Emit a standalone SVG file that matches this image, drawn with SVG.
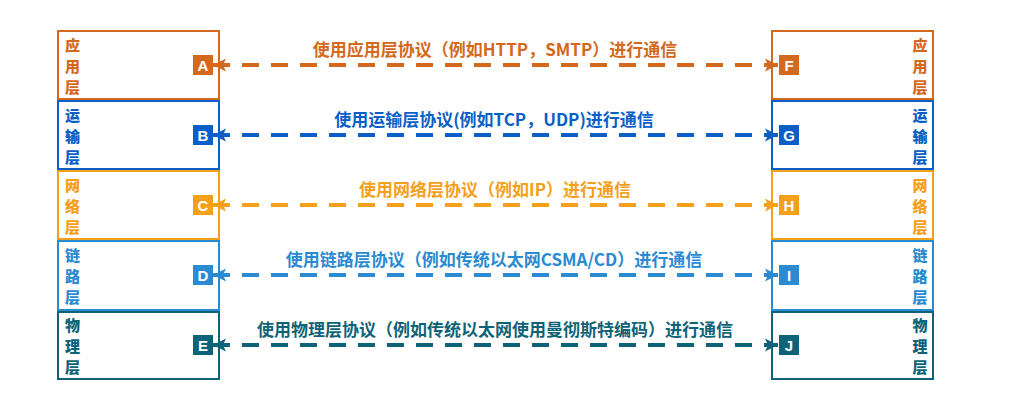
<svg xmlns="http://www.w3.org/2000/svg" width="1026" height="400" viewBox="0 0 1026 400">
<style>
.box{fill:#ffffff;stroke-width:2}
.lyr{font-family:"Noto Sans CJK SC","Liberation Sans",sans-serif;font-weight:900;font-size:15px;text-anchor:middle}
.bd{font-family:"Liberation Sans","Noto Sans",sans-serif;font-weight:bold;font-size:15px;fill:#ffffff;text-anchor:middle}
.lbl{font-family:"Noto Sans CJK SC","Liberation Sans",sans-serif;font-weight:bold;font-size:17px;text-anchor:middle}
.cn{fill:none;stroke-width:4;stroke-dasharray:17 12}
.c1{stroke:#D4691E;fill:#D4691E}
.c2{stroke:#0B5FC6;fill:#0B5FC6}
.c3{stroke:#F5A01A;fill:#F5A01A}
.c4{stroke:#2A8AD2;fill:#2A8AD2}
.c5{stroke:#0F6378;fill:#0F6378}
.t1{fill:#D4691E}.t2{fill:#0B5FC6}.t3{fill:#F5A01A}.t4{fill:#2A8AD2}.t5{fill:#0F6378}
</style>
<defs>
<marker id="m1" markerUnits="userSpaceOnUse" markerWidth="14" markerHeight="14" refX="13" refY="7" orient="auto-start-reverse"><path d="M0,0.5 L13,7 L0,13.5 L3,7 Z" fill="#D4691E"/></marker>
<marker id="m2" markerUnits="userSpaceOnUse" markerWidth="14" markerHeight="14" refX="13" refY="7" orient="auto-start-reverse"><path d="M0,0.5 L13,7 L0,13.5 L3,7 Z" fill="#0B5FC6"/></marker>
<marker id="m3" markerUnits="userSpaceOnUse" markerWidth="14" markerHeight="14" refX="13" refY="7" orient="auto-start-reverse"><path d="M0,0.5 L13,7 L0,13.5 L3,7 Z" fill="#F5A01A"/></marker>
<marker id="m4" markerUnits="userSpaceOnUse" markerWidth="14" markerHeight="14" refX="13" refY="7" orient="auto-start-reverse"><path d="M0,0.5 L13,7 L0,13.5 L3,7 Z" fill="#2A8AD2"/></marker>
<marker id="m5" markerUnits="userSpaceOnUse" markerWidth="14" markerHeight="14" refX="13" refY="7" orient="auto-start-reverse"><path d="M0,0.5 L13,7 L0,13.5 L3,7 Z" fill="#0F6378"/></marker>
</defs>
<rect width="1026" height="400" fill="#ffffff"/>

<g id="nodeA">
<rect class="box c1" style="fill:#fff" x="58" y="31" width="161" height="68"/>
<text class="lyr t1" x="72.5" y="51">应</text><text class="lyr t1" x="72.5" y="72">用</text><text class="lyr t1" x="72.5" y="93">层</text>
<rect class="t1" x="193" y="55" width="20" height="20"/><text class="bd" x="203" y="70.5">A</text>
</g>
<g id="nodeB">
<rect class="box c2" style="fill:#fff" x="58" y="101" width="161" height="68"/>
<text class="lyr t2" x="72.5" y="121">运</text><text class="lyr t2" x="72.5" y="142">输</text><text class="lyr t2" x="72.5" y="163">层</text>
<rect class="t2" x="193" y="125" width="20" height="20"/><text class="bd" x="203" y="140.5">B</text>
</g>
<g id="nodeC">
<rect class="box c3" style="fill:#fff" x="58" y="171" width="161" height="68"/>
<text class="lyr t3" x="72.5" y="191">网</text><text class="lyr t3" x="72.5" y="212">络</text><text class="lyr t3" x="72.5" y="233">层</text>
<rect class="t3" x="193" y="195" width="20" height="20"/><text class="bd" x="203" y="210.5">C</text>
</g>
<g id="nodeD">
<rect class="box c4" style="fill:#fff" x="58" y="241" width="161" height="69"/>
<text class="lyr t4" x="72.5" y="261">链</text><text class="lyr t4" x="72.5" y="282">路</text><text class="lyr t4" x="72.5" y="303">层</text>
<rect class="t4" x="193" y="265" width="20" height="20"/><text class="bd" x="203" y="280.5">D</text>
</g>
<g id="nodeE">
<rect class="box c5" style="fill:#fff" x="58" y="312" width="161" height="67"/>
<text class="lyr t5" x="72.5" y="331">物</text><text class="lyr t5" x="72.5" y="352">理</text><text class="lyr t5" x="72.5" y="373">层</text>
<rect class="t5" x="193" y="335" width="20" height="20"/><text class="bd" x="203" y="350.5">E</text>
</g>

<g id="nodeF">
<rect class="box c1" style="fill:#fff" x="772" y="31" width="161" height="68"/>
<text class="lyr t1" x="920" y="51">应</text><text class="lyr t1" x="920" y="72">用</text><text class="lyr t1" x="920" y="93">层</text>
<rect class="t1" x="779" y="55" width="20" height="20"/><text class="bd" x="789" y="70.5">F</text>
</g>
<g id="nodeG">
<rect class="box c2" style="fill:#fff" x="772" y="101" width="161" height="68"/>
<text class="lyr t2" x="920" y="121">运</text><text class="lyr t2" x="920" y="142">输</text><text class="lyr t2" x="920" y="163">层</text>
<rect class="t2" x="779" y="125" width="20" height="20"/><text class="bd" x="789" y="140.5">G</text>
</g>
<g id="nodeH">
<rect class="box c3" style="fill:#fff" x="772" y="171" width="161" height="68"/>
<text class="lyr t3" x="920" y="191">网</text><text class="lyr t3" x="920" y="212">络</text><text class="lyr t3" x="920" y="233">层</text>
<rect class="t3" x="779" y="195" width="20" height="20"/><text class="bd" x="789" y="210.5">H</text>
</g>
<g id="nodeI">
<rect class="box c4" style="fill:#fff" x="772" y="241" width="161" height="69"/>
<text class="lyr t4" x="920" y="261">链</text><text class="lyr t4" x="920" y="282">路</text><text class="lyr t4" x="920" y="303">层</text>
<rect class="t4" x="779" y="265" width="20" height="20"/><text class="bd" x="789" y="280.5">I</text>
</g>
<g id="nodeJ">
<rect class="box c5" style="fill:#fff" x="772" y="312" width="161" height="67"/>
<text class="lyr t5" x="920" y="331">物</text><text class="lyr t5" x="920" y="352">理</text><text class="lyr t5" x="920" y="373">层</text>
<rect class="t5" x="779" y="335" width="20" height="20"/><text class="bd" x="789" y="350.5">J</text>
</g>

<g id="connectors">
<line class="cn c1" style="fill:none" x1="213" y1="65" x2="778" y2="65" marker-start="url(#m1)" marker-end="url(#m1)"/>
<line class="cn c2" style="fill:none" x1="213" y1="135" x2="778" y2="135" marker-start="url(#m2)" marker-end="url(#m2)"/>
<line class="cn c3" style="fill:none" x1="213" y1="205" x2="778" y2="205" marker-start="url(#m3)" marker-end="url(#m3)"/>
<line class="cn c4" style="fill:none" x1="213" y1="275" x2="778" y2="275" marker-start="url(#m4)" marker-end="url(#m4)"/>
<line class="cn c5" style="fill:none" x1="213" y1="345" x2="778" y2="345" marker-start="url(#m5)" marker-end="url(#m5)"/>
<text class="lbl t1" x="495" y="56">使用应用层协议（例如HTTP，SMTP）进行通信</text>
<text class="lbl t2" x="494" y="126">使用运输层协议(例如TCP，UDP)进行通信</text>
<text class="lbl t3" x="495" y="196">使用网络层协议（例如IP）进行通信</text>
<text class="lbl t4" x="494" y="266">使用链路层协议（例如传统以太网CSMA/CD）进行通信</text>
<text class="lbl t5" x="495" y="336">使用物理层协议（例如传统以太网使用曼彻斯特编码）进行通信</text>
</g>
</svg>
